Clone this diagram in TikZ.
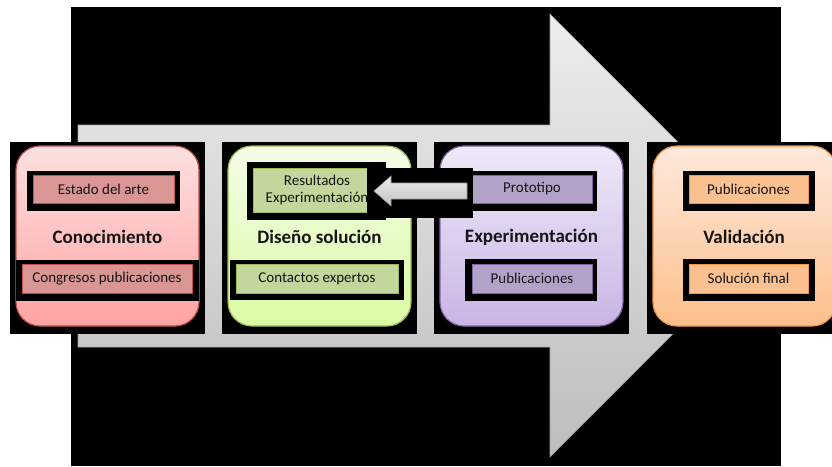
\documentclass[tikz,border=0pt]{standalone}
\usepackage{fontspec}
\setmainfont{Carlito}
\definecolor{redB}{HTML}{C0504D}
\definecolor{redT}{HTML}{FDE1E1}
\definecolor{redL}{HTML}{FFA3A3}
\definecolor{redI}{HTML}{D99694}
\definecolor{grnB}{HTML}{9BBB59}
\definecolor{grnT}{HTML}{F4FCE8}
\definecolor{grnL}{HTML}{DAFBA3}
\definecolor{grnI}{HTML}{C3D69B}
\definecolor{purB}{HTML}{8064A2}
\definecolor{purT}{HTML}{EFE9F7}
\definecolor{purL}{HTML}{C9B5E6}
\definecolor{purI}{HTML}{B3A2C7}
\definecolor{orgB}{HTML}{F79646}
\definecolor{orgT}{HTML}{FDE9DC}
\definecolor{orgL}{HTML}{FDBF8A}
\definecolor{orgI}{HTML}{FAC090}
\definecolor{txt}{HTML}{151515}
\tikzset{
  blk/.style={fill=black, draw=none},
  stage/.style={rounded corners=24pt, line width=1.2pt},
  item/.style={draw, line width=1pt, inner sep=0pt, align=center, text=txt,
     font=\fontsize{15}{17.5}\selectfont},
  title/.style={inner sep=0pt, text=txt, font=\fontsize{19}{22}\selectfont\bfseries},
}
\begin{document}
\begin{tikzpicture}[x=1pt,y=-1pt]
\useasboundingbox (0,0) rectangle (832,466);
\clip (0,0) rectangle (832,466);
% black background and big arrow
\fill[black] (71,7) rectangle (781,466);
\path[top color=black!7, bottom color=black!26, draw=black!35, line width=0.6pt]
  (78,125) -- (550,125) -- (550,14) -- (771,235.5) -- (550,457) -- (550,347) -- (78,347) -- cycle;
% stage frames
\fill[blk] (10,142) rectangle (205,334);
\fill[blk] (222,142) rectangle (417,334);
\fill[blk] (434,142) rectangle (629,334);
\fill[blk] (647,142) rectangle (840,334);
% stages
\path[stage, draw=redB, top color=redT, bottom color=redL] (16,146) rectangle (199,326);
\path[stage, draw=grnB, top color=grnT, bottom color=grnL] (228,146) rectangle (411,326);
\path[stage, draw=purB, top color=purT, bottom color=purL] (440,146) rectangle (623,326);
\path[stage, draw=orgB, top color=orgT, bottom color=orgL] (653,146) rectangle (836,326);
% item frames
\fill[blk] (27,171) rectangle (180,211);
\fill[blk] (16,260) rectangle (199,301);
\fill[blk] (247,162) rectangle (386,220);
\fill[blk] (230,260) rectangle (404,300);
\fill[blk] (465,171) rectangle (597,211);
\fill[blk] (465,259) rectangle (597,301);
\fill[blk] (683,171) rectangle (815,211);
\fill[blk] (683,259) rectangle (815,301);
% items
\node[item, draw=redB, fill=redI, minimum width=141pt, minimum height=28pt] (estado) at (103.5,189) {Estado del arte};
\node[item, draw=redB, fill=redI, minimum width=170pt, minimum height=29pt] (congresos) at (107,278.5) {Congresos publicaciones};
\node[item, draw=grnB, fill=grnI, minimum width=128pt, minimum height=44pt] (resultados) at (317,190) {Resultados\\Experimentación};
\node[item, draw=grnB, fill=grnI, minimum width=162pt, minimum height=29pt] (contactos) at (317,278.5) {Contactos expertos};
\node[item, draw=purB, fill=purI, minimum width=120pt, minimum height=28pt] (prototipo) at (532,189) {Prototipo};
\node[item, draw=purB, fill=purI, minimum width=120pt, minimum height=29pt] (pub3) at (532,278.5) {Publicaciones};
\node[item, draw=orgB, fill=orgI, minimum width=119pt, minimum height=28pt] (pub4) at (748.5,189) {Publicaciones};
\node[item, draw=orgB, fill=orgI, minimum width=119pt, minimum height=29pt] (solucion) at (748.5,278.5) {Solución final};
% titles
\node[title] (conocimiento) at (107.5,237) {Conocimiento};
\node[title] (diseno) at (319.5,237) {Diseño solución};
\node[title] (experimentacion) at (531.5,237) {Experimentación};
\node[title] (validacion) at (744,237) {Validación};
% feedback arrow
\fill[blk] (367,168) rectangle (473,218);
\path[top color=black!7, bottom color=black!24, draw=black!40, line width=0.6pt]
  (374,191) -- (391,176) -- (391,183) -- (467,183) -- (467,199) -- (391,199) -- (391,206) -- cycle;
\end{tikzpicture}
\end{document}
